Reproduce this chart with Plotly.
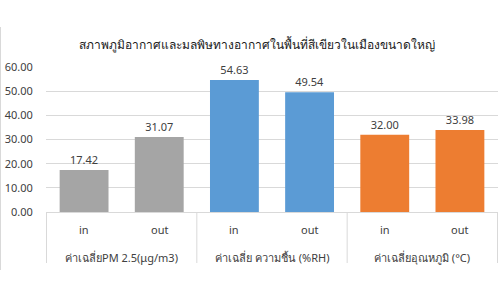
import plotly.graph_objects as go

title = "สภาพภูมิอากาศและมลพิษทางอากาศในพื้นที่สีเขียวในเมืองขนาดใหญ่"
groups = ["ค่าเฉลี่ยPM 2.5(μg/m3)", "ค่าเฉลี่ย ความชื้น (%RH)", "ค่าเฉลี่ยอุณหภูมิ (°C)"]
subs = ["in", "out"]
values = [[17.42, 31.07], [54.63, 49.54], [32.00, 33.98]]
colors = ["#A5A5A5", "#5B9BD5", "#ED7D31"]
yticks = [0, 10, 20, 30, 40, 50, 60]

FONT = "Noto Sans, DejaVu Sans, sans-serif"
W, H = 501, 303
ml, mr, mt, mb = 46, 3, 67, 91
pw, ph = W - ml - mr, H - mt - mb

def px_x(p):
    return (p - ml) / pw

def px_y(p):
    return (H - mb - p) / ph

fig = go.Figure()
for g, vals, c in zip(groups, values, colors):
    fig.add_trace(go.Bar(
        x=[[g] * len(subs), subs], y=vals, marker=dict(color=c, line=dict(width=0)),
        text=[f"{v:.2f}" for v in vals], textposition="outside",
        textfont=dict(size=11, color="#404040", family=FONT),
        cliponaxis=False, showlegend=False,
    ))

annotations = []
shapes = []
n_sub = len(subs)
for gi, g in enumerate(groups):
    for si, s in enumerate(subs):
        idx = gi * n_sub + si
        annotations.append(dict(text=s, x=idx, xref="x", y=px_y(229), yref="paper",
                                showarrow=False, xanchor="center", yanchor="middle",
                                font=dict(size=11, color="#404040", family=FONT)))
    annotations.append(dict(text=g, x=gi * n_sub + (n_sub - 1) / 2, xref="x",
                            y=px_y(257), yref="paper", showarrow=False,
                            xanchor="center", yanchor="middle",
                            font=dict(size=11, color="#404040", family=FONT)))
for gi in range(len(groups) + 1):
    xb = gi * n_sub - 0.5
    shapes.append(dict(type="line", xref="x", yref="paper", x0=xb, x1=xb,
                       y0=px_y(212), y1=px_y(263), line=dict(color="#D9D9D9", width=1)))
shapes.append(dict(type="line", xref="paper", yref="paper",
                   x0=px_x(0.5), x1=px_x(0.5), y0=px_y(27), y1=px_y(270),
                   line=dict(color="#D9D9D9", width=1)))

fig.update_layout(
    width=W, height=H,
    margin=dict(l=ml, r=mr, t=mt, b=mb),
    paper_bgcolor="white", plot_bgcolor="white",
    bargap=0.35,
    font=dict(family=FONT, color="#404040", size=11),
    title=dict(text=title, x=257 / W, xanchor="center", y=1 - 45 / H, yanchor="middle",
               font=dict(size=12, color="#202020", family=FONT)),
    xaxis=dict(type="multicategory", showdividers=False, showticklabels=False,
               showline=True, linecolor="#D9D9D9", linewidth=1, showgrid=False),
    yaxis=dict(range=[0, 60], tickvals=yticks, tickformat=".2f", showgrid=True,
               gridcolor="#D9D9D9", gridwidth=1, zeroline=False, showline=False,
               ticks="outside", ticklen=10, tickcolor="rgba(0,0,0,0)",
               tickfont=dict(size=11, color="#404040")),
    annotations=annotations,
    shapes=shapes,
)

fig.write_html("out.html")
